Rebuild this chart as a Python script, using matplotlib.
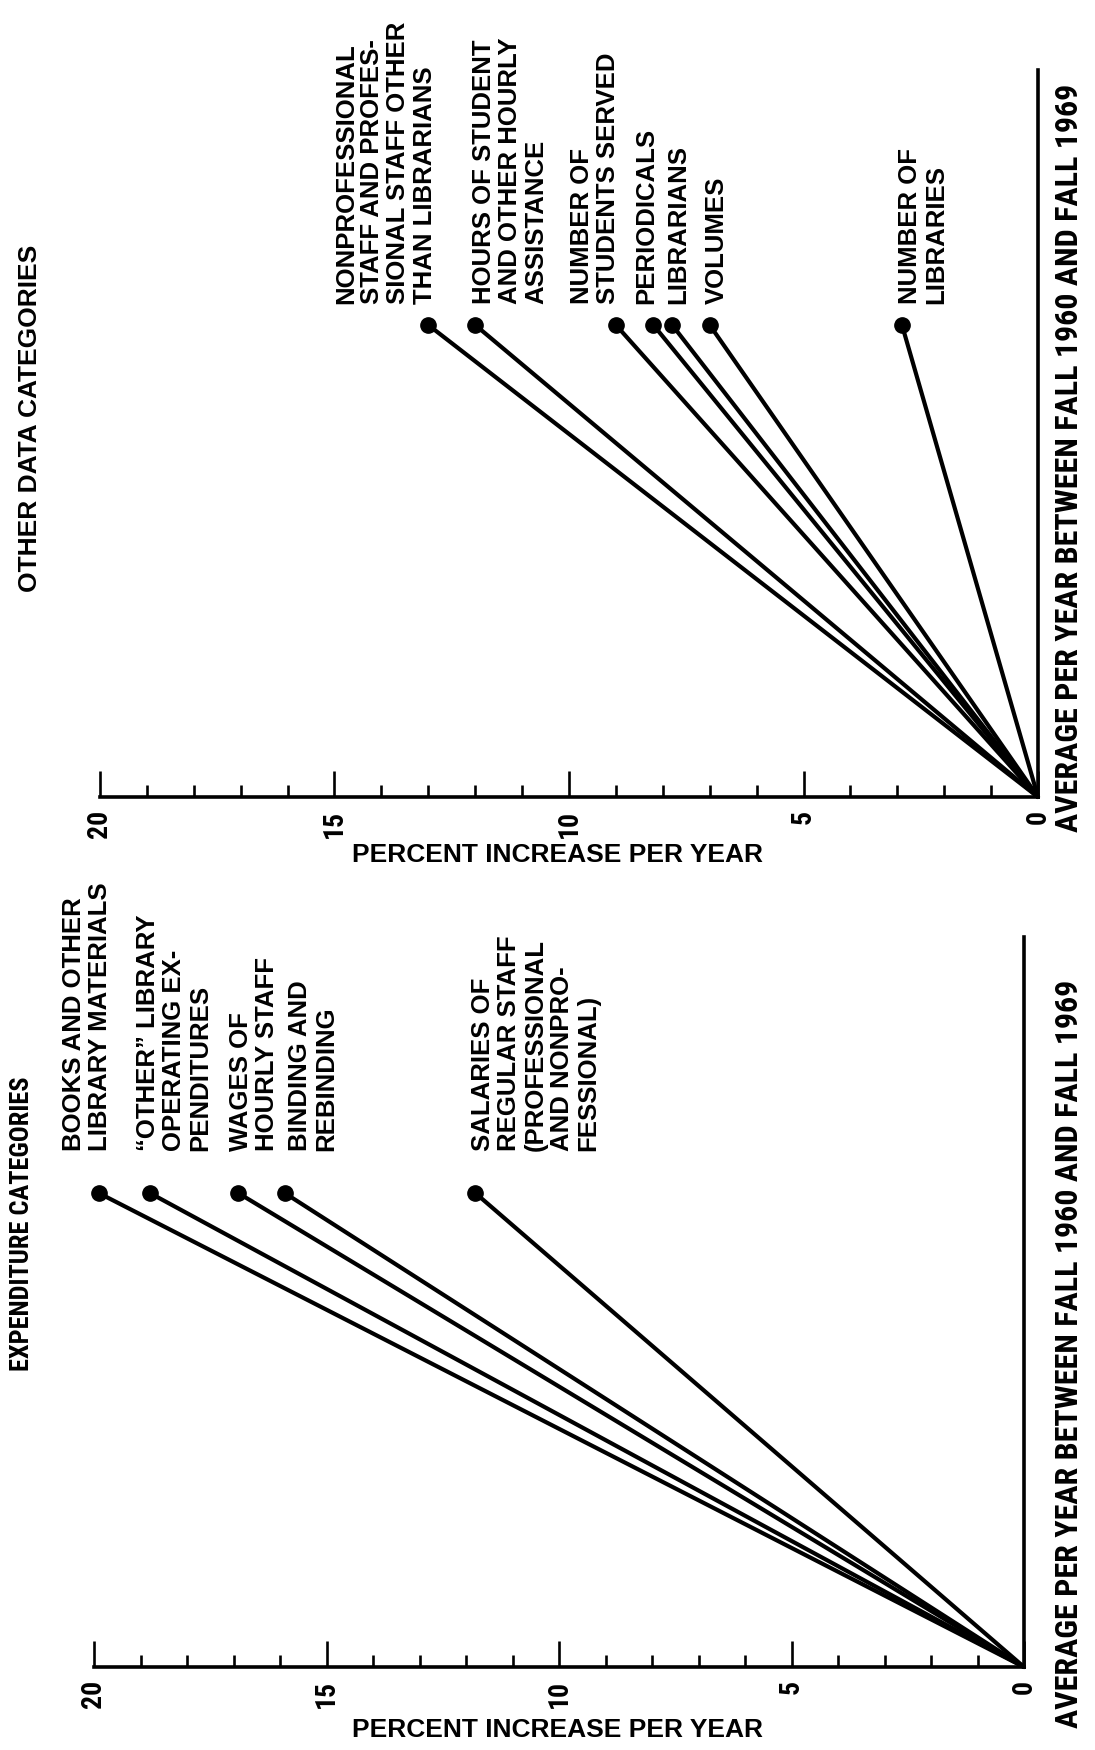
import matplotlib
matplotlib.use("Agg")
import matplotlib.pyplot as plt
import matplotlib.font_manager as fm
from matplotlib.ticker import FixedLocator, MultipleLocator

# ---------------------------------------------------------------
# values (percent increase per year)
# ---------------------------------------------------------------
exp_labels = [
    "BOOKS AND OTHER\nLIBRARY MATERIALS",
    "\u201cOTHER\u201d LIBRARY\nOPERATING EX-\nPENDITURES",
    "WAGES OF\nHOURLY STAFF",
    "BINDING AND\nREBINDING",
    "SALARIES OF\nREGULAR STAFF\n(PROFESSIONAL\nAND NONPRO-\nFESSIONAL)",
]
exp_pct = [19.9, 18.8, 16.9, 15.9, 11.8]

oth_labels = [
    "NONPROFESSIONAL\nSTAFF AND PROFES-\nSIONAL STAFF OTHER\nTHAN LIBRARIANS",
    "HOURS OF STUDENT\nAND OTHER HOURLY\nASSISTANCE",
    "NUMBER OF\nSTUDENTS SERVED",
    "PERIODICALS",
    "LIBRARIANS",
    "VOLUMES",
    "NUMBER OF\nLIBRARIES",
]
oth_pct = [13.0, 12.0, 9.0, 8.2, 7.8, 7.0, 2.9]

pct_ticks = [0, 5, 10, 15, 20]
period_label = "AVERAGE PER YEAR BETWEEN FALL 1960 AND FALL 1969"
pct_label = "PERCENT INCREASE PER YEAR"

# ---------------------------------------------------------------
# fonts
# ---------------------------------------------------------------
names = {f.name for f in fm.fontManager.ttflist}
REG = "Liberation Sans"
NARROW = None
for n in ["Liberation Sans Narrow", "DejaVu Sans Condensed", "Roboto Condensed"]:
    if n in names:
        NARROW = n
        break
if NARROW is None:
    NARROW = REG
    nscale = 0.85
else:
    nscale = 1.0

W, H = 1095, 1750


def fx(px):
    return px / W


def fy(py):
    return 1 - py / H


fig = plt.figure(figsize=(W / 100, H / 100), dpi=100)
fig.patch.set_facecolor("white")


def panel(left, right, base, top, end_px, pct, labels, offs, rise):
    ax = fig.add_axes([fx(left), fy(base), (right - left) / W, (base - top) / H])
    ax.set_xlim(20, 0)
    ax.set_ylim(0, (base - top) / end_px)
    for s in ["top", "left"]:
        ax.spines[s].set_visible(False)
    for s in ["bottom", "right"]:
        ax.spines[s].set_linewidth(2.6)
    ax.set_yticks([])
    ax.xaxis.set_major_locator(FixedLocator(pct_ticks))
    ax.xaxis.set_minor_locator(MultipleLocator(1))
    ax.tick_params(axis="x", which="major", direction="in", length=19,
                   width=1.9, pad=9)
    ax.tick_params(axis="x", which="minor", direction="in", length=9,
                   width=1.9)
    ax.set_xticks(pct_ticks, labels=[str(t) for t in pct_ticks],
                  rotation=90, fontsize=20 * nscale, fontweight="bold",
                  family=NARROW)
    ax.patch.set_alpha(0)

    for p, lab, o in zip(pct, labels, offs):
        ax.plot([0, p], [0, 1], color="black", lw=3.0,
                solid_capstyle="round", clip_on=False)
        ax.plot(p, 1, "o", color="black", ms=11, clip_on=False)
        ax.annotate(lab, xy=(p, 1), xytext=(o, rise),
                    textcoords="offset pixels", rotation=90,
                    ha="center", va="bottom", multialignment="left",
                    fontsize=18.5, fontweight="bold", family=REG,
                    linespacing=1.12, annotation_clip=False)
    return ax


# top panel: other data categories
panel(100, 1038, 797, 70, 472, oth_pct, oth_labels,
      [-43, 35, -21, -7, 6, 7, 21], 21)
# bottom panel: expenditure categories
panel(94, 1024, 1667, 937, 474, exp_pct, exp_labels,
      [-12, 24, 16, 28, 60], 42)

# axis titles
for yc in [855, 1730]:
    fig.text(fx(558), fy(yc), pct_label, ha="center", va="center",
             fontsize=19, fontweight="bold", family=REG)
for ys in [832, 1728]:
    fig.text(fx(1069), fy(ys), period_label, rotation=90, ha="center",
             va="bottom", fontsize=23 * nscale, fontweight="bold",
             family=NARROW)

# panel titles
fig.text(fx(30), fy(592), "OTHER DATA CATEGORIES", rotation=90,
         ha="center", va="bottom", fontsize=19, fontweight="bold", family=REG)
fig.text(fx(22), fy(1371), "EXPENDITURE CATEGORIES", rotation=90,
         ha="center", va="bottom", fontsize=19 * nscale, fontweight="bold",
         family=NARROW)

fig.savefig("out.png", dpi=100, facecolor="white")
